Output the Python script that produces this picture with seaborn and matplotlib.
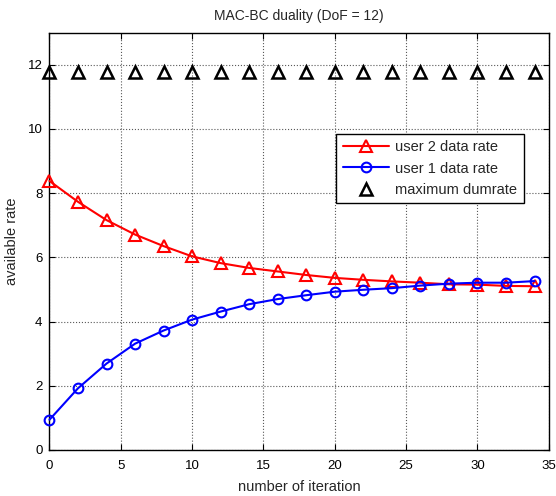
import pandas as pd
import seaborn as sns
import matplotlib.pyplot as plt

# values
iteration = list(range(0, 36, 2))
user2_rate = [8.38, 7.73, 7.16, 6.71, 6.35, 6.03, 5.82, 5.67, 5.56, 5.45,
              5.36, 5.30, 5.25, 5.21, 5.16, 5.15, 5.11, 5.10]
user1_rate = [0.94, 1.92, 2.69, 3.31, 3.72, 4.06, 4.31, 4.54, 4.70, 4.82,
              4.93, 4.99, 5.04, 5.12, 5.18, 5.21, 5.21, 5.26]
max_rate = [11.78] * len(iteration)

df = pd.DataFrame({'iteration': iteration, 'user2': user2_rate,
                   'user1': user1_rate, 'maxrate': max_rate})

sns.set_style('ticks')
plt.rcParams['font.family'] = ['Liberation Sans', 'DejaVu Sans']

fig = plt.figure(figsize=(5.56, 4.96), dpi=100)
ax = fig.add_axes([0.089, 0.093, 0.898, 0.841])

sns.lineplot(data=df, x='iteration', y='user2', ax=ax, color='red',
             linewidth=1.5, marker='^', markersize=9, markerfacecolor='none',
             markeredgecolor='red', markeredgewidth=1.5, label='user 2 data rate',
             clip_on=False, zorder=3)
sns.lineplot(data=df, x='iteration', y='user1', ax=ax, color='blue',
             linewidth=1.5, marker='o', markersize=7, markerfacecolor='none',
             markeredgecolor='blue', markeredgewidth=1.5, label='user 1 data rate',
             clip_on=False, zorder=3)
sns.lineplot(data=df, x='iteration', y='maxrate', ax=ax, color='black',
             linestyle='', marker='^', markersize=9, markerfacecolor='none',
             markeredgecolor='black', markeredgewidth=1.8, label='maximum dumrate',
             clip_on=False, zorder=3)

ax.set_xlim(0, 35)
ax.set_ylim(0, 13)
ax.set_xticks(range(0, 36, 5))
ax.set_yticks(range(0, 13, 2))
ax.grid(True, linestyle=':', color='0.35', linewidth=0.8)
ax.tick_params(direction='in', length=4, width=0.8, top=True, right=True,
               labelsize=9.5, colors='black')
ax.tick_params(axis='x', pad=7)
ax.tick_params(axis='y', pad=5)
for s in ax.spines.values():
    s.set_visible(True)
    s.set_linewidth(1.0)
    s.set_color('black')

ax.set_xlabel('number of iteration', fontsize=10.5, labelpad=6)
ax.set_ylabel('available rate', fontsize=10.5, labelpad=6)
ax.set_title('MAC-BC duality (DoF = 12)', fontsize=10, pad=9)

leg = ax.legend(loc='upper right', bbox_to_anchor=(0.950, 0.758), fontsize=10.5,
                frameon=True, fancybox=False, framealpha=1, edgecolor='black',
                borderpad=0.45, labelspacing=0.5, handlelength=3.2,
                handletextpad=0.4, borderaxespad=0)
leg.get_frame().set_linewidth(1.0)

fig.savefig('out.png', dpi=100)
